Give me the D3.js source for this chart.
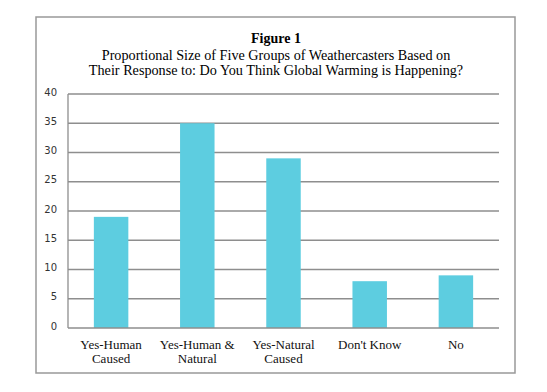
<!DOCTYPE html>
<html><head><meta charset="utf-8">
<script src="https://cdn.jsdelivr.net/npm/d3@7"></script>
<style>body{margin:0;background:#fff}</style>
</head><body>
<svg id="c" width="547" height="392"></svg>
<script>
const categories = [["Yes-Human","Caused"],["Yes-Human &","Natural"],["Yes-Natural","Caused"],["Don't Know"],["No"]];
const values = [19, 35, 29, 8, 9];
const yTicks = [0,5,10,15,20,25,30,35,40];
const titleLines = ["Figure 1","Proportional Size of Five Groups of Weathercasters Based on","Their Response to: Do You Think Global Warming is Happening?"];

(function(){
const svg = d3.select("#c");
svg.append("rect").attr("x",36).attr("y",17).attr("width",479).attr("height",356)
  .attr("fill","#fff").attr("stroke","#999").attr("stroke-width",1.5);

const pL=68, pR=499, pT=94, pB=328;
const x = d3.scaleBand().domain(d3.range(values.length)).range([pL,pR]).paddingInner(0.6).paddingOuter(0.3);
const y = d3.scaleLinear().domain([0,40]).range([pB,pT]);

// grid
svg.append("g").selectAll("line").data(yTicks.filter(d=>d>0)).join("line")
  .attr("x1",pL).attr("x2",pR).attr("y1",d=>y(d)).attr("y2",d=>y(d))
  .attr("stroke","#8e8e8e").attr("stroke-width",1.3);

// bars
svg.append("g").selectAll("rect").data(values).join("rect")
  .attr("x",(d,i)=>x(i)).attr("width",x.bandwidth())
  .attr("y",d=>y(d)).attr("height",d=>y(0)-y(d))
  .attr("fill","#5dcde0");

// axes lines
svg.append("line").attr("x1",pL).attr("x2",pR).attr("y1",pB).attr("y2",pB).attr("stroke","#8e8e8e").attr("stroke-width",1.3);
svg.append("line").attr("x1",pL).attr("x2",pL).attr("y1",pT).attr("y2",pB).attr("stroke","#8e8e8e").attr("stroke-width",1.3);

// y labels
svg.append("g").selectAll("text").data(yTicks).join("text")
  .attr("x",57).attr("y",d=>y(d)+1.5).attr("text-anchor","end")
  .attr("font-family","DejaVu Sans").attr("font-size",10).attr("fill","#333").text(d=>d);

// x labels
const xl = svg.append("g").selectAll("text").data(categories).join("text")
  .attr("x",(d,i)=>x(i)+x.bandwidth()/2).attr("y",348.5).attr("text-anchor","middle")
  .attr("font-family","Liberation Serif").attr("font-size",13).attr("fill","#111");
xl.selectAll("tspan").data(d=>d).join("tspan")
  .attr("x",function(){return this.parentNode.getAttribute("x");})
  .attr("dy",(d,i)=>i?14:0).text(d=>d);

// title
svg.append("text").attr("x",276).attr("y",43).attr("text-anchor","middle")
  .attr("font-family","Liberation Serif").attr("font-weight","bold").attr("font-size",14).attr("fill","#000").text(titleLines[0]);
svg.append("text").attr("x",276).attr("y",59.5).attr("text-anchor","middle")
  .attr("font-family","Liberation Serif").attr("font-size",14.2).attr("fill","#000").text(titleLines[1]);
svg.append("text").attr("x",276).attr("y",75).attr("text-anchor","middle")
  .attr("font-family","Liberation Serif").attr("font-size",14.2).attr("fill","#000").text(titleLines[2]);
})();
</script>
</body></html>
